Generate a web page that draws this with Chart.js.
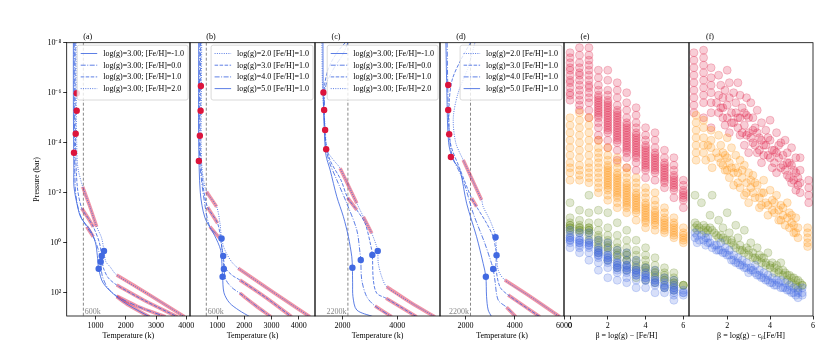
<!DOCTYPE html>
<html>
<head>
<meta charset="utf-8">
<script src="https://cdn.jsdelivr.net/npm/chart.js@4.4.0/dist/chart.umd.min.js"></script>
<style>
  body { margin: 0; background: #fff; }
  #wrap { position: relative; width: 830px; height: 356px; }
  #wrap canvas { position: absolute; left: 0; top: 0; }
</style>
</head>
<body>
<div id="wrap">
  <canvas id="pa" width="830" height="356"></canvas>
  <canvas id="pb" width="830" height="356"></canvas>
  <canvas id="pc" width="830" height="356"></canvas>
  <canvas id="pd" width="830" height="356"></canvas>
  <canvas id="pe" width="830" height="356"></canvas>
  <canvas id="pf" width="830" height="356"></canvas>
</div>
<script>
// ---- data: T-P profiles as [temperature K, log10 pressure bar] ----
const yTicks = [-8, -6, -4, -2, 0, 2]

// (a) log(g)=3, varying [Fe/H]
const aSolid = [[270,-8],[270,-6],[275,-4.5],[285,-3],[290,-2.24],[400,-1.5],[520,-1],[830,-0.5],[1000,0],[1060,0.5],[1106,1.04],[1258,1.62],[1700,2.16],[2100,2.5],[2780,2.96]]
const aDashDot = [[300,-8],[300,-6],[310,-4],[330,-2.24],[390,-1.6],[500,-1.1],[710,-0.64],[928,-0.24],[1100,0.3],[1172,0.76],[1220,1.3],[1400,1.8],[1700,2.13],[2400,2.55],[3310,2.96]]
const aDashed = [[330,-8],[330,-6],[340,-4],[400,-2.24],[545,-1.38],[750,-1],[928,-0.64],[1130,0],[1205,0.53],[1260,1.0],[1420,1.4],[1700,1.69],[2600,2.3],[3700,2.96]]
const aDotted = [[360,-8],[365,-6],[380,-4],[420,-3],[578,-2.24],[800,-1.5],[1040,-0.64],[1200,-0.2],[1281,0.33],[1340,0.75],[1480,0.96],[1700,1.29],[2800,2.1],[3940,2.96]]
const aPink = [[3,-2.24,-0.64],[2,-1.38,-0.64],[1,-0.64,-0.24],[3,1.29,2.96],[2,1.69,2.96],[1,2.13,2.96],[0,2.16,2.96]]
const aRed = [[380,-5.98],[380,-5.28],[347,-4.36],[290,-3.6]]
const aBlue = [[1106,1.04],[1172,0.76],[1205,0.53],[1281,0.33]]
const aLabels = ["log(g)=3.00; [Fe/H]=-1.0", "log(g)=3.00; [Fe/H]=0.0", "log(g)=3.00; [Fe/H]=1.0", "log(g)=3.00; [Fe/H]=2.0"]

// (b) [Fe/H]=1, varying log(g)
const bDotted = [[430,-8],[420,-6],[410,-4],[440,-3],[500,-2.5],[610,-2.04],[978,-1.44],[1100,-0.8],[1162,-0.17],[1283,0.29],[1530,0.76],[1773,1.02],[3090,2.0],[4411,2.96]]
const bDashed = [[390,-8],[380,-6],[375,-4],[410,-3],[520,-2],[647,-1.42],[1015,-0.78],[1150,0],[1221,0.53],[1300,1.0],[1550,1.3],[1835,1.49],[2800,2.2],[3738,2.96]]
const bDashDot = [[360,-8],[350,-6],[345,-4],[375,-3],[550,-1.5],[731,-0.64],[1099,-0.17],[1200,0.5],[1247,1.05],[1330,1.5],[1550,1.8],[1835,2.02],[2400,2.5],[2976,2.96]]
const bSolid = [[320,-8],[315,-6],[320,-4],[380,-2],[550,-1],[900,-0.3],[1130,0.3],[1180,1.0],[1199,1.36],[1250,2.0],[1450,2.4],[1800,2.7],[2203,2.96]]
const bPink = [[0,-2.04,-1.44],[1,-1.42,-0.78],[2,-0.64,-0.17],[0,1.02,2.96],[1,1.49,2.96],[2,2.02,2.96]]
const bRed = [[400,-6.27],[390,-5.28],[363,-4.28],[326,-3.27]]
const bBlue = [[1162,-0.17],[1221,0.53],[1247,1.05],[1199,1.36]]
const bLabels = ["log(g)=2.0 [Fe/H]=1.0", "log(g)=3.0 [Fe/H]=1.0", "log(g)=4.0 [Fe/H]=1.0", "log(g)=5.0 [Fe/H]=1.0"]

// (c) hot case, varying [Fe/H]
const cSolid = [[1290,-8],[1300,-6],[1340,-4.5],[1400,-3.5],[1552,-2.91],[1796,-1.84],[2036,-1.04],[2218,-0.24],[2342,0.56],[2364,1.0],[2372,1.6],[2385,2.16],[2524,2.69],[3128,2.96]]
const cDashDot = [[2200,-8],[2000,-7.5],[1700,-7],[1400,-6.3],[1340,-5.3],[1380,-4],[1500,-3.3],[1800,-2.5],[2150,-1.6],[2524,-0.51],[2644,0.42],[2670,0.69],[2706,1.49],[2888,2.16],[3190,2.53],[3798,2.96]]
const cDashed = [[2100,-8],[1800,-7.6],[1500,-7],[1350,-6.3],[1330,-5.3],[1400,-4],[1550,-3.3],[1950,-2.5],[2190,-1.8],[2524,-1.31],[2826,-0.78],[3045,0.16],[3092,0.49],[3128,1.49],[3252,2.02],[3591,2.22],[4708,2.96]]
const cDotted = [[1250,-8],[1280,-6],[1380,-4.5],[1432,-3.71],[1672,-3.31],[1916,-2.98],[2524,-1.58],[2764,-1.04],[3070,-0.38],[3252,0.16],[3289,0.33],[3310,0.83],[3434,1.36],[3616,1.76],[4500,2.4],[5374,2.96]]
const cPink = [[3,-2.98,-1.58],[3,-1.04,-0.38],[2,-1.8,-1.31],[3,1.76,2.96],[2,2.22,2.96],[1,2.53,2.96]]
const cRed = [[1308,-6.01],[1334,-5.31],[1370,-4.51],[1407,-3.74]]
const cBlue = [[2364,1.0],[2670,0.69],[3092,0.49],[3289,0.33]]

// (d) hot case, varying log(g)
const dDotted = [[2380,-8],[2100,-7],[1700,-6],[1500,-5],[1600,-4],[1903,-3.31],[2650,-1.71],[2715,-1.44],[2987,-0.91],[3190,-0.38],[3218,-0.22],[3259,0.29],[3324,1.09],[3596,1.49],[4700,2.2],[5829,2.96]]
const dDashed = [[2200,-8],[1800,-7.3],[1450,-6.5],[1330,-5.5],[1380,-4],[1750,-3],[2244,-1.78],[2447,-1.44],[2853,-0.78],[3121,-0.24],[3230,0.29],[3259,0.5],[3230,0.96],[3393,1.76],[3730,2.09],[5017,2.96]]
const dDashDot = [[1250,-8],[1280,-6],[1330,-4.5],[1450,-3.5],[1900,-2.5],[2309,-1.18],[2784,0.03],[3056,0.83],[3121,1.05],[3190,1.49],[3324,2.29],[3665,2.58],[4042,2.96]]
const dSolid = [[1200,-8],[1240,-6],[1310,-4],[1500,-3.3],[1769,-2.91],[2041,-1.58],[2447,-0.24],[2715,0.83],[2824,1.36],[2853,2.16],[2918,2.69],[3056,2.96]]
const dPink = [[0,-3.31,-1.71],[1,-1.78,-1.44],[0,1.49,2.96],[1,2.09,2.96],[2,2.58,2.96]]
const dRed = [[1294,-6.31],[1294,-5.31],[1334,-4.34],[1403,-3.43]]
const dBlue = [[3218,-0.22],[3259,0.5],[3121,1.05],[2824,1.36]]

// vertical reference temperatures
const refTemps = [600, 600, 2200, 2200]

// x tick labels per panel
const aTicks = [1000, 2000, 3000, 4000]
const bTicks = [1000, 2000, 3000, 4000]
const cTicks = [2000, 4000]
const dTicks = [2000, 4000, 6000]
const eTicks = [0, 2, 4, 6]
const fTicks = [2, 4, 6]

// (e) log P per beta column
const eBeta = [0, 0.5, 1, 1.5, 2, 2.5, 3, 3.5, 4, 4.5, 5, 5.5, 6]
const eRed = [
  [-7.6,-7.4,-7.2,-7.0,-6.9,-6.7,-6.5,-6.4,-6.2,-6.0,-5.9,-5.7],
  [-7.8,-7.5,-7.2,-7.0,-6.8,-6.7,-6.5,-6.3,-6.1,-5.9,-5.7,-5.5,-5.3],
  [-7.8,-7.5,-7.3,-7.1,-6.9,-6.7,-6.5,-6.3,-6.2,-6.0,-5.8,-5.6,-5.3,-5.0],
  [-6.9,-6.6,-6.3,-6.1,-5.9,-5.8,-5.7,-5.6,-5.5,-5.4,-5.3,-5.2,-5.1,-5.0,-4.8,-4.6,-4.3,-4.1],
  [-6.9,-6.5,-6.1,-5.9,-5.7,-5.6,-5.5,-5.4,-5.3,-5.2,-5.1,-5.0,-4.9,-4.8,-4.7,-4.6,-4.5,-4.4,-4.1,-3.8],
  [-6.4,-6.1,-5.8,-5.5,-5.3,-5.2,-5.1,-5.0,-4.9,-4.8,-4.7,-4.6,-4.5,-4.4,-4.3,-4.2,-4.1,-4.0,-3.7,-3.3],
  [-6.0,-5.6,-5.3,-5.0,-4.8,-4.7,-4.6,-4.5,-4.4,-4.3,-4.2,-4.1,-4.0,-3.9,-3.8,-3.7,-3.6,-3.4,-3.0],
  [-5.4,-5.1,-4.8,-4.6,-4.4,-4.3,-4.2,-4.1,-4.0,-3.9,-3.8,-3.7,-3.6,-3.5,-3.4,-3.2,-2.9],
  [-4.6,-4.3,-4.1,-3.9,-3.8,-3.7,-3.6,-3.5,-3.4,-3.3,-3.2,-3.1,-3.0,-2.9,-2.6],
  [-4.4,-4.1,-3.8,-3.6,-3.5,-3.4,-3.3,-3.2,-3.1,-3.0,-2.9,-2.8,-2.5],
  [-3.7,-3.4,-3.2,-3.1,-3.0,-2.9,-2.8,-2.7,-2.6,-2.5,-2.4,-2.2],
  [-3.4,-3.1,-2.9,-2.7,-2.6,-2.5,-2.4,-2.3,-2.2,-2.1,-1.8],
  [-2.5,-2.3,-2.1,-2.0,-1.9,-1.8,-1.7,-1.4]
]
const eOrange = [
  [-5.0,-4.7,-4.4,-4.1,-3.8,-3.5,-3.2,-3.0,-2.8,-2.5],
  [-5.2,-4.9,-4.6,-4.3,-4.0,-3.7,-3.4,-3.1,-2.9,-2.7,-2.5],
  [-5.0,-4.7,-4.4,-4.1,-3.8,-3.5,-3.2,-3.0,-2.8,-2.6,-2.4],
  [-4.1,-3.8,-3.6,-3.4,-3.2,-3.0,-2.8,-2.6,-2.4,-2.2,-2.0],
  [-3.8,-3.5,-3.3,-3.1,-3.0,-2.9,-2.8,-2.7,-2.6,-2.5,-2.4,-2.3,-2.2,-2.1,-1.9,-1.7],
  [-3.4,-3.2,-3.0,-2.8,-2.7,-2.6,-2.5,-2.4,-2.3,-2.2,-2.1,-2.0,-1.9,-1.8,-1.6,-1.4],
  [-3.0,-2.8,-2.6,-2.4,-2.3,-2.2,-2.1,-2.0,-1.9,-1.8,-1.7,-1.6,-1.5,-1.4,-1.2],
  [-2.6,-2.4,-2.2,-2.0,-1.9,-1.8,-1.7,-1.6,-1.5,-1.4,-1.3,-1.2,-0.9],
  [-2.2,-2.0,-1.8,-1.6,-1.5,-1.4,-1.3,-1.2,-1.1,-1.0,-0.9,-0.8,-0.6],
  [-2.0,-1.7,-1.5,-1.3,-1.2,-1.1,-1.0,-0.9,-0.8,-0.7,-0.5],
  [-1.4,-1.2,-1.0,-0.9,-0.8,-0.7,-0.6,-0.5,-0.4],
  [-1.0,-0.8,-0.7,-0.6,-0.5,-0.4,-0.3,-0.2],
  [-0.6,-0.4,-0.3,-0.2,-0.1,0.0]
]
const eGreen = [
  [-1.6,-1.0,-0.8,-0.7,-0.7,-0.6,-0.6,-0.5,-0.4],
  [-1.3,-0.9,-0.7,-0.6,-0.6,-0.5,-0.5,-0.4],
  [-1.9,-1.2,-0.8,-0.6,-0.6,-0.5,-0.5,-0.4,-0.3,-0.1],
  [-1.3,-0.8,-0.5,-0.3,-0.2,-0.1,0.0,0.1,0.2,0.4],
  [-1.2,-0.6,-0.3,-0.1,0.0,0.1,0.2,0.2,0.4,0.7],
  [-0.8,-0.3,0.0,0.2,0.3,0.4,0.5,0.5,0.7,1.0],
  [-0.5,-0.1,0.2,0.4,0.5,0.5,0.7,0.7,0.9,1.1],
  [-0.1,0.3,0.5,0.7,0.8,0.9,1.0,1.1,1.4],
  [0.2,0.5,0.7,0.9,1.0,1.0,1.1,1.2,1.5],
  [0.6,0.9,1.1,1.2,1.2,1.3,1.4,1.6],
  [1.0,1.2,1.3,1.4,1.5,1.5,1.8],
  [1.2,1.4,1.5,1.6,1.6,1.7,1.9],
  [1.7,1.7,1.7]
]
const eBlue = [
  [-0.5,-0.3,-0.2,-0.2,-0.1,-0.1,0.0,0.2],
  [-0.4,-0.2,-0.1,-0.1,0.0,0.0,0.1,0.2,0.4],
  [-0.4,-0.1,0.0,0.0,0.1,0.1,0.2,0.4,0.7],
  [-0.1,0.2,0.3,0.3,0.4,0.4,0.5,0.5,0.6,0.8,1.1],
  [0.0,0.3,0.5,0.5,0.6,0.6,0.7,0.7,0.8,1.0,1.4],
  [0.3,0.6,0.8,0.8,0.9,0.9,1.0,1.0,1.1,1.2,1.5],
  [0.4,0.7,0.9,0.9,1.0,1.0,1.1,1.1,1.2,1.4,1.6],
  [0.7,1.0,1.1,1.1,1.2,1.2,1.3,1.3,1.5,1.8],
  [1.0,1.2,1.3,1.3,1.4,1.4,1.5,1.5,1.8],
  [1.1,1.4,1.5,1.5,1.6,1.6,1.7,2.0],
  [1.4,1.6,1.7,1.7,1.8,1.8,2.0],
  [1.5,1.7,1.8,1.8,1.9,1.9,2.0,2.1,2.3],
  [1.9,2.0,2.0,2.1]
]

// (f) [beta, log P]
const fRed = [[0.45,-7.6],[0.45,-7.3],[0.45,-7.0],[0.45,-6.7],[0.45,-6.4],[0.45,-6.1],[0.45,-5.8],[0.45,-5.5],[0.45,-5.2],
  [0.9,-7.7],[0.9,-7.4],[0.9,-7.1],[0.9,-6.8],[0.9,-6.5],[0.9,-6.2],[0.9,-5.9],[0.9,-5.6],[0.9,-5.0],
  [1.25,-7.0],[1.25,-6.6],[1.25,-6.3],[1.25,-6.0],[1.25,-5.6],[1.25,-5.2],[1.25,-4.6],
  [1.6,-6.7],[1.6,-5.9],[1.7,-6.3],[1.7,-5.4],[1.8,-5.8],[1.8,-5.0],[1.9,-6.1],[1.9,-4.7],[2.0,-6.9],[2.0,-5.5],[2.1,-6.4],[2.1,-4.4],[2.2,-5.2],[2.3,-6.0],[2.3,-4.8],
  [2.4,-5.6],[2.5,-6.4],[2.5,-5.0],[2.6,-5.9],[2.6,-4.3],[2.7,-5.4],[2.8,-4.7],[2.8,-3.9],[2.9,-5.8],[2.9,-5.1],[3.0,-4.4],[3.0,-3.6],
  [3.1,-5.6],[3.2,-5.0],[3.2,-4.0],[3.3,-4.6],[3.4,-5.3],[3.4,-3.6],[3.5,-4.2],[3.6,-4.8],[3.6,-3.2],[3.7,-3.9],[3.8,-4.5],
  [3.9,-3.5],[4.0,-4.9],[4.0,-4.1],[4.1,-3.0],[4.2,-3.7],[4.3,-4.4],[4.3,-2.8],[4.4,-3.4],[4.5,-4.0],[4.6,-3.1],
  [4.7,-4.1],[4.8,-3.6],[4.8,-2.7],[4.9,-3.2],[5.0,-3.8],[5.0,-2.4],[5.1,-2.9],[5.2,-3.4],[5.2,-2.1],[5.3,-2.6],
  [5.4,-3.4],[5.4,-2.9],[5.4,-2.4],[5.4,-2.0],[5.8,-2.5],[5.8,-2.2],[5.8,-1.9],[5.8,-1.6],
  [1.5,-5.6],[1.6,-5.2],[1.8,-5.4],[2.0,-5.0],[2.1,-5.8],[2.2,-4.8],[2.4,-5.2],[2.5,-4.6],[2.6,-5.0],[2.7,-4.4],[2.8,-5.2],[2.9,-4.3],
  [3.0,-5.0],[3.1,-4.2],[3.2,-4.5],[3.3,-3.9],[3.4,-4.4],[3.5,-3.7],[3.6,-4.1],[3.7,-3.5],[3.8,-3.9],[3.9,-4.2],[4.0,-3.4],[4.1,-3.7],
  [4.2,-3.2],[4.3,-3.6],[4.4,-3.9],[4.5,-3.0],[4.6,-3.5],[4.7,-2.9],[4.8,-3.2],[4.9,-2.6],[5.0,-3.1],[5.1,-2.5],[5.2,-2.8],[5.3,-2.3]]
const fOrange = [[0.55,-5.1],[0.55,-4.8],[0.55,-4.5],[0.55,-4.2],[0.55,-3.9],[0.55,-3.6],[0.55,-3.3],
  [0.9,-4.9],[0.9,-4.6],[0.9,-4.2],[0.9,-3.9],[0.9,-3.6],[1.0,-3.3],
  [1.25,-4.5],[1.25,-4.1],[1.25,-3.8],[1.25,-3.4],[1.3,-3.0],
  [1.6,-4.3],[1.7,-3.9],[1.7,-3.2],[1.8,-3.6],[1.9,-2.9],[2.0,-4.2],[2.0,-3.4],[2.1,-2.6],[2.2,-3.8],[2.2,-3.0],[2.3,-2.3],
  [2.4,-3.5],[2.5,-2.8],[2.6,-3.3],[2.6,-2.2],[2.7,-2.6],[2.8,-3.1],[2.8,-1.9],[2.9,-2.4],[3.0,-2.8],[3.0,-1.6],
  [3.1,-2.2],[3.2,-2.7],[3.3,-1.8],[3.4,-2.3],[3.5,-1.4],[3.6,-2.0],[3.7,-2.5],[3.8,-1.6],[3.9,-1.1],
  [4.0,-2.1],[4.1,-1.7],[4.2,-1.2],[4.3,-1.9],[4.4,-0.9],[4.5,-1.5],[4.6,-1.1],[4.7,-0.7],
  [4.8,-1.6],[4.9,-1.2],[5.0,-0.8],[5.1,-0.4],[5.2,-1.0],[5.3,-0.6],[5.3,-0.2],
  [5.75,-0.6],[5.75,-0.4],[5.75,-0.2],[5.75,0.0],[5.75,0.15],
  [1.1,-3.9],[1.5,-3.6],[1.6,-3.4],[1.8,-3.1],[1.9,-3.5],[2.0,-2.9],[2.1,-3.2],[2.3,-2.8],[2.4,-3.0],[2.5,-2.4],[2.7,-2.9],[2.9,-2.0],
  [3.1,-2.5],[3.2,-2.0],[3.3,-2.4],[3.5,-1.8],[3.6,-1.5],[3.7,-2.0],[3.9,-1.5],[4.1,-1.3],[4.2,-1.6],[4.4,-1.3],[4.5,-0.9],[4.6,-1.4],
  [4.8,-1.0],[4.9,-0.6],[5.0,-1.1],[5.1,-0.7],[5.2,-0.4]]
const fGreen = [[0.5,-1.9],[0.5,-0.8],[0.5,-0.6],[0.6,-0.5],[0.8,-1.6],[0.9,-0.7],[0.9,-0.5],[1.0,-0.4],[1.2,-1.1],[1.2,-0.6],[1.3,-1.9],[1.4,-0.4],
  [1.6,-0.9],[1.7,-0.3],[1.8,-0.6],[1.9,-0.1],[2.0,-1.2],[2.1,-0.4],[2.2,-0.1],[2.3,0.1],[2.4,-0.7],
  [2.5,-0.2],[2.6,0.1],[2.7,0.3],[2.8,-0.5],[2.9,0.2],[3.0,0.5],[3.1,0.0],[3.2,0.4],[3.3,0.6],[3.4,0.2],
  [3.5,0.5],[3.6,0.8],[3.7,0.6],[3.8,0.9],[3.9,0.4],[4.0,1.0],[4.1,0.8],[4.2,1.2],[4.3,0.9],[4.4,1.1],
  [4.5,0.8],[4.6,1.3],[4.7,1.2],[4.8,1.5],[4.9,1.3],[5.0,1.6],[5.1,1.4],[5.2,1.7],[5.3,1.5],[5.3,1.8],[5.5,1.7],
  [0.6,-0.7],[0.7,-0.6],[1.0,-0.6],[1.1,-0.5],[1.3,-0.5],[1.5,-0.3],[1.6,-0.2],[1.8,-0.2],[2.0,-0.1],[2.2,0.0],[2.4,0.2],[2.6,0.3],
  [2.8,0.4],[3.0,0.3],[3.2,0.6],[3.4,0.7],[3.6,0.6],[3.8,0.8],[4.0,0.9],[4.2,1.0],[4.4,1.2],[4.6,1.1],[4.8,1.3],[5.0,1.4],[5.2,1.5],[5.4,1.6],[5.5,1.7]]
const fBlue = [[0.5,-0.4],[0.5,-0.2],[0.6,0.0],[0.8,-0.3],[0.9,-0.1],[1.0,0.1],[1.1,-0.2],[1.2,0.0],[1.3,0.2],
  [1.5,0.1],[1.6,0.3],[1.7,0.0],[1.8,0.4],[1.9,0.2],[2.0,0.5],[2.1,0.3],[2.2,0.7],[2.3,0.5],[2.4,0.8],
  [2.5,0.6],[2.6,0.9],[2.7,0.7],[2.8,1.0],[2.9,0.8],[3.0,1.2],[3.1,1.0],[3.2,1.1],[3.3,0.9],[3.4,1.3],
  [3.5,1.1],[3.6,1.4],[3.7,1.2],[3.8,1.5],[3.9,1.3],[4.0,1.6],[4.1,1.4],[4.2,1.7],[4.3,1.5],[4.4,1.6],
  [4.5,1.5],[4.6,1.8],[4.7,1.6],[4.8,1.9],[4.9,1.7],[5.0,2.0],[5.1,1.8],[5.2,2.1],[5.3,1.9],[5.3,2.2],[5.5,2.0],[5.5,1.8],
  [0.6,-0.3],[0.7,-0.1],[1.0,-0.2],[1.1,0.0],[1.4,0.1],[1.5,0.3],[1.7,0.3],[1.9,0.4],[2.1,0.5],[2.3,0.7],[2.5,0.8],[2.7,0.9],
  [2.9,1.0],[3.1,1.1],[3.3,1.2],[3.5,1.3],[3.7,1.4],[3.9,1.5],[4.1,1.6],[4.3,1.7],[4.5,1.8],[4.7,1.8],[4.9,1.9],[5.1,2.0],[5.3,2.0],[5.5,2.1]]

// ---- styling ----
const FONT = "'Liberation Serif', 'Times New Roman', serif"
const LINE = "rgba(65,105,225,0.85)"
const DASH = { solid: [], dashdot: [5, 1.5, 1, 1.5], dashed: [3.5, 1.5], dotted: [1, 1.3] }
const PANEL_L = [66.7, 190, 315, 440, 564, 689]
const PANEL_R = [190, 315, 440, 564, 689, 813]

Chart.defaults.font.family = FONT
Chart.defaults.color = "#000"

const SUP = { "-": "\u207B", "0": "\u2070", "1": "\u00B9", "2": "\u00B2", "3": "\u00B3", "4": "\u2074", "5": "\u2075", "6": "\u2076", "7": "\u2077", "8": "\u2078", "9": "\u2079" }
const pow10 = (v) => "10" + String(v).split("").map((c) => SUP[c]).join("")
const xy = (arr) => arr.map((p) => ({ x: p[0], y: p[1] }))

function drawLegend(ctx, a, labels, styles) {
  ctx.font = `8px ${FONT}`
  const tw = Math.max(...labels.map((t) => ctx.measureText(t).width))
  const w = 3.5 + 16.5 + 6 + tw + 4
  const h = 4 * 11.7 + 8
  const x = a.right - 2 - w
  const y = a.top + 2.5
  ctx.beginPath()
  ctx.roundRect(x, y, w, h, 2)
  ctx.fillStyle = "rgba(255,255,255,0.8)"
  ctx.fill()
  ctx.strokeStyle = "#d0d0d0"
  ctx.lineWidth = 0.8
  ctx.stroke()
  labels.forEach((t, k) => {
    const cy = y + 8.3 + k * 11.7
    ctx.beginPath()
    ctx.setLineDash(DASH[styles[k]])
    ctx.strokeStyle = LINE
    ctx.lineWidth = 1
    ctx.moveTo(x + 3.5, cy)
    ctx.lineTo(x + 20, cy)
    ctx.stroke()
    ctx.setLineDash([])
    ctx.fillStyle = "#000"
    ctx.textAlign = "left"
    ctx.textBaseline = "middle"
    ctx.fillText(t, x + 26, cy + 0.5)
  })
}

const deco = {
  id: "deco",
  afterDatasetsDraw(chart, args, o) {
    const { ctx, chartArea: a } = chart
    ctx.save()
    if (o.ref) {
      const px = chart.scales.x.getPixelForValue(o.ref)
      ctx.font = `8px ${FONT}`
      ctx.fillStyle = "#888"
      ctx.textBaseline = "alphabetic"
      ctx.textAlign = o.refSide === "left" ? "right" : "left"
      ctx.fillText(o.ref + "k", o.refSide === "left" ? px - 1.5 : px + 1.5, a.bottom - 2.5)
    }
    if (o.legend) drawLegend(ctx, a, o.legend, o.styles)
    ctx.strokeStyle = "#000"
    ctx.lineWidth = 0.8
    ctx.strokeRect(a.left, a.top, a.right - a.left, a.bottom - a.top)
    ctx.font = `8px ${FONT}`
    ctx.fillStyle = "#000"
    ctx.textAlign = "center"
    ctx.textBaseline = "alphabetic"
    ctx.fillText(o.tag, a.left + 21, a.top - 3.5)
    ctx.restore()
  },
}

function profileSets(curves, styles, pinks, red, blue, ref) {
  const ds = []
  ds.push({ data: xy(red), showLine: false, pointRadius: 3.2, pointBorderWidth: 0, pointBackgroundColor: "#dc143c", order: 0 })
  ds.push({ data: xy(blue), showLine: false, pointRadius: 3.2, pointBorderWidth: 0, pointBackgroundColor: "#4169e1", order: 0 })
  curves.forEach((c, k) => {
    ds.push({ data: xy(c), showLine: true, pointRadius: 0, borderColor: LINE, borderWidth: 1, borderDash: DASH[styles[k]], tension: 0.3, order: 1 })
  })
  pinks.forEach(([k, p0, p1]) => {
    const seg = curves[k].filter((p) => p[1] >= p0 - 1e-9 && p[1] <= p1 + 1e-9)
    ds.push({ data: xy(seg), showLine: true, pointRadius: 0, borderColor: "rgba(220,20,60,0.45)", borderWidth: 3.5, tension: 0.3, order: 2 })
  })
  ds.push({ data: [{ x: ref, y: -8 }, { x: ref, y: 3 }], showLine: true, pointRadius: 0, borderColor: "#888", borderWidth: 1, borderDash: [3, 2], order: 3 })
  return ds
}

function scatterSets(groups) {
  return groups.map(([pts, rgb], k) => ({
    data: pts,
    showLine: false,
    pointRadius: 4,
    pointBorderWidth: 0.8,
    pointBackgroundColor: `rgba(${rgb},0.21)`,
    pointBorderColor: `rgba(${rgb},0.28)`,
    order: 3 - k,
  }))
}

function columns(cols) {
  const out = []
  cols.forEach((vals, i) => vals.forEach((v) => out.push({ x: eBeta[i], y: v })))
  return out
}

function makePanel(id, i, datasets, xMin, xMax, xTicks, xTitle, deco_opts) {
  const first = i === 0
  return new Chart(document.getElementById(id), {
    type: "scatter",
    data: { datasets },
    plugins: [deco],
    options: {
      responsive: false,
      animation: false,
      events: [],
      layout: { padding: { left: first ? 31.9 : PANEL_L[i], right: 830 - PANEL_R[i], top: 42.7, bottom: 15 } },
      plugins: { legend: { display: false }, tooltip: { enabled: false }, deco: deco_opts },
      scales: {
        x: {
          type: "linear",
          min: xMin,
          max: xMax,
          afterFit: (s) => { s.height = 25 },
          afterBuildTicks: (s) => { s.ticks = xTicks.map((v) => ({ value: v })) },
          ticks: { autoSkip: false, maxRotation: 0, padding: 1.5, color: "#000", font: { size: 8 }, callback: (v) => String(v) },
          grid: { drawOnChartArea: false, drawTicks: true, tickLength: 3.5, color: "#000", lineWidth: 0.8 },
          border: { display: false },
          title: { display: true, text: xTitle, color: "#000", font: { size: 8 }, padding: { top: 0, bottom: 0 } },
        },
        y: {
          type: "linear",
          min: -8,
          max: 2.93,
          reverse: true,
          display: first,
          afterFit: (s) => { s.width = first ? 34.8 : 0 },
          afterBuildTicks: (s) => { s.ticks = yTicks.map((v) => ({ value: v })) },
          ticks: { autoSkip: false, padding: 2, color: "#000", font: { size: 8 }, callback: (v) => pow10(v) },
          grid: { drawOnChartArea: false, drawTicks: true, tickLength: 3.5, color: "#000", lineWidth: 0.8 },
          border: { display: false },
          title: { display: true, text: "Pressure (bar)", color: "#000", font: { size: 8 }, padding: { top: 0, bottom: 0 } },
        },
      },
    },
  })
}

const stylesFe = ["solid", "dashdot", "dashed", "dotted"]
const stylesG = ["dotted", "dashed", "dashdot", "solid"]

makePanel("pa", 0, profileSets([aSolid, aDashDot, aDashed, aDotted], stylesFe, aPink, aRed, aBlue, refTemps[0]),
  50, 4120, aTicks, "Temperature (k)", { tag: "(a)", legend: aLabels, styles: stylesFe, ref: refTemps[0], refSide: "right" })
makePanel("pb", 1, profileSets([bDotted, bDashed, bDashDot, bSolid], stylesG, bPink, bRed, bBlue, refTemps[1]),
  0, 4600, bTicks, "Temperature (k)", { tag: "(b)", legend: bLabels, styles: stylesG, ref: refTemps[1], refSide: "right" })
makePanel("pc", 2, profileSets([cSolid, cDashDot, cDashed, cDotted], stylesFe, cPink, cRed, cBlue, refTemps[2]),
  1000, 5560, cTicks, "Temperature (k)", { tag: "(c)", legend: aLabels, styles: stylesFe, ref: refTemps[2], refSide: "left" })
makePanel("pd", 3, profileSets([dDotted, dDashed, dDashDot, dSolid], stylesG, dPink, dRed, dBlue, refTemps[3]),
  960, 6000, dTicks, "Temperature (k)", { tag: "(d)", legend: bLabels, styles: stylesG, ref: refTemps[3], refSide: "left" })

makePanel("pe", 4, scatterSets([
  [columns(eRed), "220,20,60"], [columns(eOrange), "255,140,0"], [columns(eGreen), "107,142,35"], [columns(eBlue), "65,105,225"],
]), -0.32, 6.3, eTicks, "\u03B2 = log(g) \u2212 [Fe/H]", { tag: "(e)" })
makePanel("pf", 5, scatterSets([
  [xy(fRed), "220,20,60"], [xy(fOrange), "255,140,0"], [xy(fGreen), "107,142,35"], [xy(fBlue), "65,105,225"],
]), 0.22, 6.0, fTicks, "\u03B2 = log(g) \u2212 c\u1D66[Fe/H]", { tag: "(f)" })
</script>
</body>
</html>
